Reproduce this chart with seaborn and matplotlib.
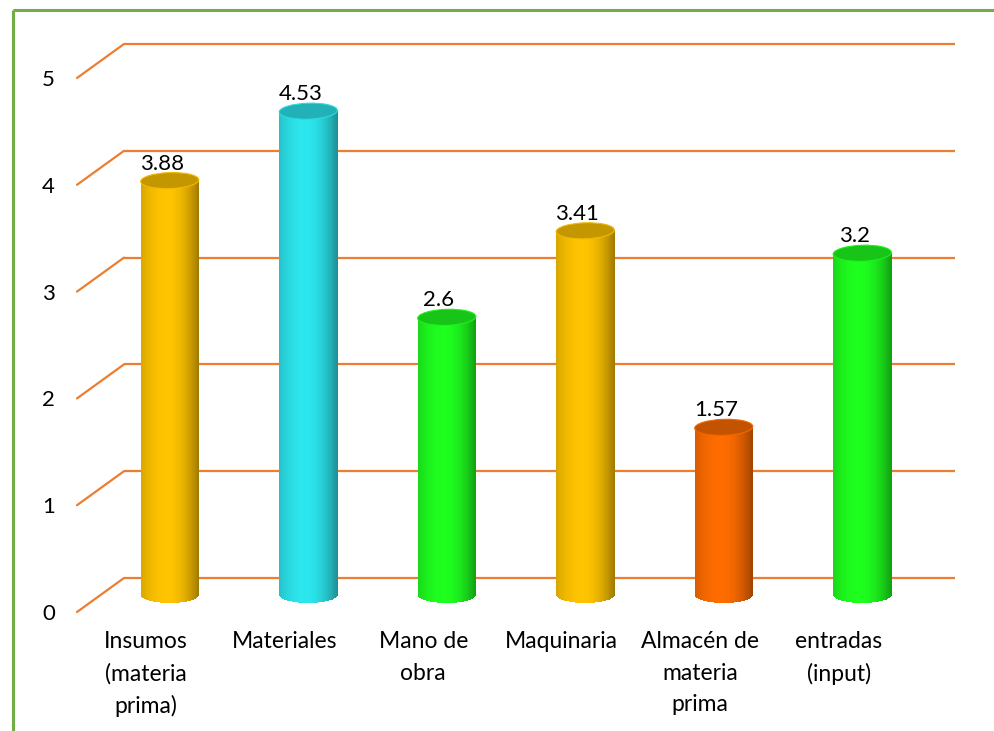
import numpy as np
import pandas as pd
import matplotlib
matplotlib.use("Agg")
import matplotlib.pyplot as plt
import matplotlib.colors as mcolors
import seaborn as sns
from matplotlib.transforms import ScaledTranslation
from matplotlib.patches import Rectangle, Ellipse
from matplotlib.lines import Line2D

# ---- data ----
categories = ["Insumos\n(materia\nprima)", "Materiales", "Mano de\nobra",
              "Maquinaria", "Almacén de\nmateria\nprima", "entradas\n(input)"]
values = [3.88, 4.53, 2.6, 3.41, 1.57, 3.2]
value_labels = ["3.88", "4.53", "2.6", "3.41", "1.57", "3.2"]
bar_colors = ["#FFC400", "#2CE6EE", "#1EFF1E", "#FFC400", "#FF6C00", "#1EFF1E"]
y_ticks = [0, 1, 2, 3, 4, 5]

GRID = "#ED7D31"
FRAME = "#70AD47"

sns.set_theme(style="white")
plt.rcParams["font.family"] = ["Lato", "DejaVu Sans"]

DPI = 100
fig = plt.figure(figsize=(9.95, 7.31), dpi=DPI)
ax = fig.add_axes([77 / 995, (731 - 612) / 731, 831 / 995, 534 / 731])
ax.set_facecolor("none")

df = pd.DataFrame({"cat": categories, "val": values})
sns.barplot(data=df, x="cat", y="val", hue="cat", palette=bar_colors,
            width=0.42, saturation=1, legend=False, ax=ax)
ax.set_xlim(-0.5, 5.5)
ax.set_ylim(0, 5)

# depth offsets of the pseudo-3D box (back wall and the plane of the bars)
back = ax.transData + ScaledTranslation(47 / DPI, 34 / DPI, fig.dpi_scale_trans)
mid = ax.transData + ScaledTranslation(23.5 / DPI, 17 / DPI, fig.dpi_scale_trans)

# gridlines on the back wall plus the slanted side-wall segments
inv = ax.transData.inverted()
for v in y_ticks:
    ax.plot([-0.5, 5.5], [v, v], color=GRID, lw=1.6, transform=back,
            clip_on=False, zorder=0, solid_capstyle="butt")
    p0 = ax.transData.transform((-0.5, v))
    d1 = inv.transform(p0 + np.array([47, 34]))
    ax.plot([-0.5, d1[0]], [v, d1[1]], color=GRID, lw=1.6,
            clip_on=False, zorder=0)

# cylinder bars
px_per_unit = ax.transData.transform((0, 1))[1] - ax.transData.transform((0, 0))[1]
ery = 8.0 / px_per_unit


def shade(rgb, t):
    if t < 0.45:
        f = 1 - 0.16 * ((0.45 - t) / 0.45) ** 2
    else:
        f = 1 - 0.38 * ((t - 0.45) / 0.55) ** 2
    return np.clip(np.array(rgb) * f, 0, 1)


N = 70
for patch, col, lbl in zip(ax.patches, bar_colors, value_labels):
    x0, w, h = patch.get_x(), patch.get_width(), patch.get_height()
    patch.set_visible(False)
    base = mcolors.to_rgb(col)
    for j in range(N):
        t0, t1 = j / N, (j + 1) / N
        tc = 0.5 * (t0 + t1)
        u = 2 * tc - 1
        ybot = -ery * np.sqrt(max(0.0, 1 - u * u))
        ax.add_patch(Rectangle((x0 + t0 * w, ybot), (t1 - t0) * w * 1.3, h - ybot,
                               facecolor=shade(base, tc), lw=0, transform=mid,
                               zorder=2, clip_on=False))
    top = np.array(base) * 0.77
    rim = np.clip(np.array(base) * 0.95, 0, 1)
    ax.add_patch(Ellipse((x0 + w / 2, h), w * 1.0, 2 * ery, angle=2.5,
                         facecolor=top, edgecolor=rim, lw=0.8,
                         transform=mid, zorder=3, clip_on=False))
    ax.annotate(lbl, xy=(x0 + w / 2, h), xycoords=mid, xytext=(-8, 11),
                textcoords="offset pixels", ha="center", va="baseline",
                fontsize=16, color="black", zorder=4)

# axes text
ax.set_xticks(range(len(categories)))
ax.set_xticklabels(categories, fontsize=16.5, color="black", linespacing=1.6)
ax.set_yticks(y_ticks)
ax.set_yticklabels([str(t) for t in y_ticks], fontsize=16, color="black")
ax.tick_params(axis="x", length=0, pad=14)
ax.tick_params(axis="y", length=0, pad=16)
ax.set_xlabel("")
ax.set_ylabel("")
for s in ax.spines.values():
    s.set_visible(False)

# chart-area frame
fig.add_artist(Line2D([13 / 995, 13 / 995], [0, 1 - 10 / 731], transform=fig.transFigure,
                      color=FRAME, lw=2.2, solid_capstyle="butt"))
fig.add_artist(Line2D([13 / 995, 1], [1 - 10 / 731, 1 - 10 / 731], transform=fig.transFigure,
                      color=FRAME, lw=2.2, solid_capstyle="butt"))

fig.savefig("out.png", dpi=DPI)
